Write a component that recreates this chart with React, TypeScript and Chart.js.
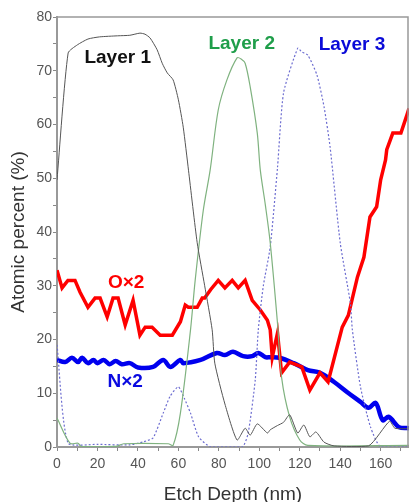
import React, { useEffect, useRef } from "react";
import { Chart, registerables } from "chart.js";

Chart.register(...registerables);

// ---- Data ----
const layer1X = [0, 5.5, 10, 15.3, 21, 30, 36, 41, 43.5, 46, 49.5, 52, 54.5, 57.4, 60, 62.4, 65, 69.3, 73, 76.7, 78, 83, 89, 93, 95.5, 99, 104, 105.4, 109, 112, 115, 119, 122, 125, 128, 132, 137, 154, 164.4, 167, 174];
const layer1Y = [49.7, 73.3, 74.8, 75.9, 76.3, 76.5, 76.6, 77, 76.8, 76.1, 73.9, 71.4, 69.6, 68.3, 64.6, 59.5, 51.5, 38, 30, 21.8, 15.6, 8, 1.3, 3.5, 2.2, 4.3, 2.6, 3.2, 4, 4.6, 6.0, 2.6, 4.1, 1.9, 2.8, 0.9, 0.2, 0.2, 4.8, 3.5, 3.4];

const layer2X = [0, 6.4, 10.4, 12, 29, 33, 55, 57.4, 61, 66, 68.3, 72.3, 75.7, 79.7, 84, 89, 91, 93, 95.5, 99, 100.5, 103, 105.4, 109, 111, 115, 120, 124, 174];
const layer2Y = [5.4, 0.7, 0.7, 0.1, 0.1, 0.6, 0.6, 0.3, 6.3, 21.8, 31, 44, 51.5, 62.7, 68.3, 72.4, 72.2, 71.4, 67, 58.4, 51.5, 45, 38, 23, 13, 5.6, 1.3, 0.3, 0.3];

const layer3X = [0, 5.5, 20, 36, 43, 47.5, 52.5, 56, 60, 63, 66, 70, 76, 91.5, 94.5, 98, 99.5, 102, 105.4, 109, 112, 119, 121, 124, 128.5, 132, 135, 140, 145, 146, 150, 155, 160, 174];
const layer3Y = [19, 0.7, 0.5, 0.4, 1, 1.7, 6.3, 9.5, 11.2, 9, 6.3, 1.9, 0, 0, 2.6, 12.5, 21.8, 30, 37.2, 52, 65.9, 74.2, 73.5, 72.9, 69.2, 63.3, 55.8, 38, 26.8, 21.8, 11.2, 3.7, 0, 0];

const oX = [0, 2.5, 5.4, 8.9, 11.4, 15.3, 18.8, 21.3, 24.8, 27.7, 30.2, 33.7, 37.6, 41, 43.6, 47, 51, 57, 61, 63.4, 64.9, 69.3, 71.8, 73, 76, 79.7, 83, 86.6, 89.6, 93, 96.5, 100.5, 104, 105.4, 106.4, 109, 111, 115, 121, 125, 130, 134, 141, 144, 148.5, 151.7, 154.7, 158, 160, 162.4, 163, 166, 170, 173, 174];
const oY = [32.9, 29.6, 31, 31, 28.8, 26, 27.7, 27.7, 24.2, 27.7, 27.7, 22.7, 27.3, 20.8, 22.3, 22.3, 20.8, 20.8, 23.3, 26.4, 26, 26, 27.7, 27.7, 29.3, 31, 29.6, 31, 29.6, 31, 27.3, 25.5, 23.6, 21.8, 16.7, 21.2, 13.8, 15.8, 14.9, 10.6, 13.8, 12.1, 22.3, 24.5, 31.6, 35.3, 42.8, 44.7, 49.7, 53.4, 55.3, 58.4, 58.4, 61.8, 63];

const nX = [0, 4, 7.4, 10.4, 12.4, 15.3, 18, 20, 23, 26, 29, 32, 36, 40, 47.5, 52.5, 56, 61, 62.4, 71, 79, 83, 87, 92, 96.5, 99.5, 103, 105.4, 110, 117, 124, 130, 137, 143.5, 150, 154, 157.5, 161, 164, 169, 174];
const nY = [16.2, 15.8, 16.6, 15.8, 16.6, 15.6, 16.2, 15.6, 16.2, 15.4, 16, 15.4, 15.6, 14.8, 14.9, 16.2, 14.9, 16.2, 15.6, 16.2, 17.5, 17.1, 17.7, 16.9, 16.9, 17.5, 16.7, 16.7, 16.6, 15.6, 14.3, 13.8, 12.1, 10.2, 8.4, 7.3, 8.2, 5.0, 5.6, 3.7, 3.5];

const labelTexts = ["Layer 1", "Layer 2", "Layer 3", "O×2", "N×2"];
const labelX = [30, 91.3, 145.8, 34.2, 33.7];
const labelY = [72.4, 75.1, 74.8, 30.6, 12.2];
const labelColors = ["#111111", "#1f9e4a", "#0a0ad8", "#ff0000", "#0a0ae0"];

const FONT = "'Liberation Sans', Arial, sans-serif";

const pts = (xs: number[], ys: number[]) => xs.map((x, i) => ({ x, y: ys[i] }));

export default function App() {
  const ref = useRef<HTMLCanvasElement | null>(null);

  useEffect(() => {
    if (!ref.current) return;
    const framePlugin = {
      id: "frameAndLabels",
      afterDatasetsDraw(chart: any) {
        const { ctx, chartArea, scales } = chart;
        ctx.save();
        ctx.strokeStyle = "#999999";
        ctx.lineWidth = 1.5;
        ctx.beginPath();
        ctx.moveTo(chartArea.left, chartArea.top);
        ctx.lineTo(chartArea.right - 1, chartArea.top);
        ctx.lineTo(chartArea.right - 1, chartArea.bottom);
        ctx.stroke();
        ctx.font = `bold 19px ${FONT}`;
        ctx.textAlign = "center";
        ctx.textBaseline = "middle";
        labelTexts.forEach((t, i) => {
          ctx.fillStyle = labelColors[i];
          ctx.fillText(t, scales.x.getPixelForValue(labelX[i]), scales.y.getPixelForValue(labelY[i]));
        });
        ctx.restore();
      },
    };

    const chart = new Chart(ref.current, {
      type: "line",
      data: {
        datasets: [
          { label: "Layer 1", data: pts(layer1X, layer1Y), borderColor: "#555555", borderWidth: 1, pointRadius: 0, tension: 0.2 },
          { label: "Layer 2", data: pts(layer2X, layer2Y), borderColor: "#7fb27f", borderWidth: 1.2, pointRadius: 0, tension: 0.3 },
          { label: "Layer 3", data: pts(layer3X, layer3Y), borderColor: "#6c6cd0", borderWidth: 1.2, borderDash: [2, 2], pointRadius: 0, tension: 0.2 },
          { label: "O×2", data: pts(oX, oY), borderColor: "#ff0000", borderWidth: 3.5, pointRadius: 0 },
          { label: "N×2", data: pts(nX, nY), borderColor: "#0000ee", borderWidth: 4.5, pointRadius: 0, tension: 0.35 },
        ],
      },
      options: {
        responsive: false,
        animation: false,
        layout: { padding: { top: 17, left: 0, right: 0, bottom: 0 } },
        plugins: { legend: { display: false }, tooltip: { enabled: false } },
        scales: {
          x: {
            type: "linear",
            min: 0,
            max: 174,
            afterFit: (s: any) => { s.height = 55; },
            ticks: {
              stepSize: 10,
              includeBounds: false,
              autoSkip: false,
              maxRotation: 0,
              padding: 5,
              color: "#555555",
              font: { family: FONT, size: 14 },
              callback: (v: any) => (Number(v) % 20 === 0 ? String(v) : ""),
            },
            grid: { drawOnChartArea: false, tickLength: 4, color: "#888888" },
            border: { color: "#999999", width: 2 },
            title: {
              display: true,
              text: "Etch Depth (nm)",
              color: "#333333",
              font: { family: FONT, size: 19 },
              padding: { top: 0, bottom: -4 },
            },
          },
          y: {
            min: 0,
            max: 80,
            afterFit: (s: any) => { s.width = 57; },
            ticks: {
              stepSize: 5,
              autoSkip: false,
              padding: 1,
              color: "#555555",
              font: { family: FONT, size: 14 },
              callback: (v: any) => (Number(v) % 10 === 0 ? String(v) : ""),
            },
            grid: { drawOnChartArea: false, tickLength: 4, color: "#888888" },
            border: { color: "#999999", width: 2 },
            title: {
              display: true,
              text: "Atomic percent (%)",
              color: "#333333",
              font: { family: FONT, size: 19 },
              padding: { top: 7, bottom: 0 },
            },
          },
        },
      },
      plugins: [framePlugin],
    } as any);
    return () => chart.destroy();
  }, []);

  return (
    <div style={{ position: "absolute", left: 0, top: 0, width: 409, height: 502, background: "#fff" }}>
      <canvas ref={ref} width={409} height={502} />
    </div>
  );
}
